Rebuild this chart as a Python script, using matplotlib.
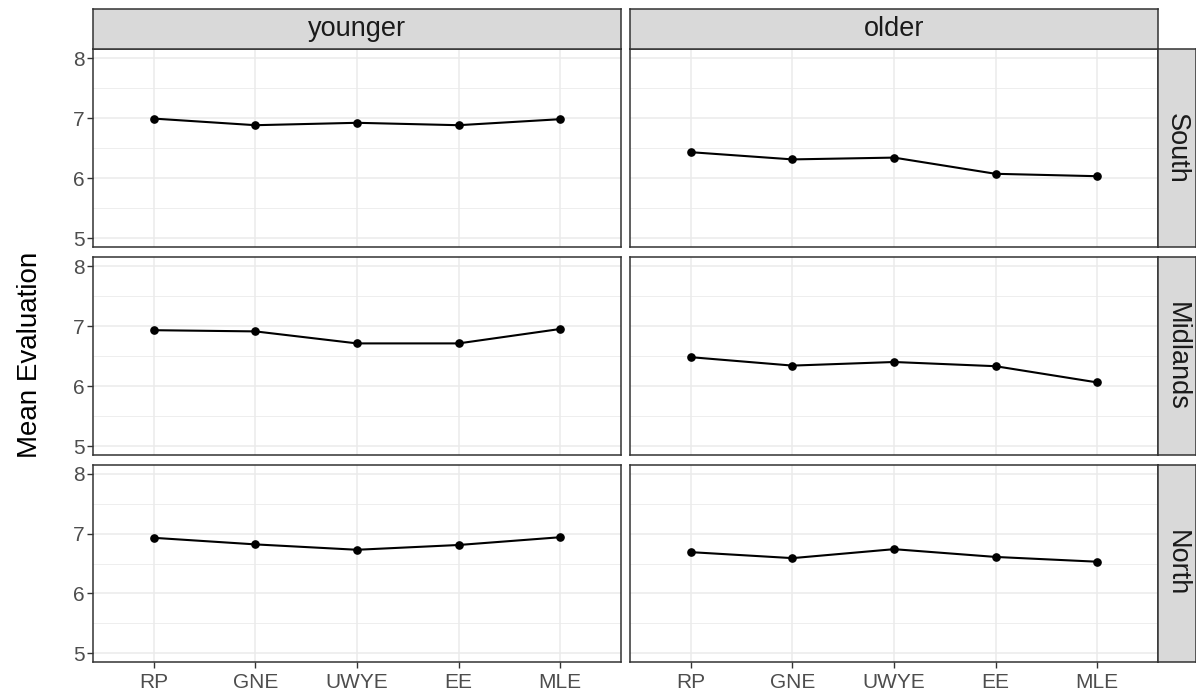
import numpy as np
import matplotlib
matplotlib.use("Agg")
import matplotlib.pyplot as plt

plt.rcParams['font.family'] = ['Liberation Sans', 'DejaVu Sans']

# data
categories = ['RP', 'GNE', 'UWYE', 'EE', 'MLE']
ages = ['younger', 'older']
regions = ['South', 'Midlands', 'North']

younger_south = [6.99, 6.88, 6.92, 6.88, 6.98]
older_south = [6.43, 6.31, 6.34, 6.07, 6.03]
younger_midlands = [6.93, 6.91, 6.71, 6.71, 6.95]
older_midlands = [6.48, 6.34, 6.40, 6.33, 6.06]
younger_north = [6.93, 6.82, 6.73, 6.81, 6.94]
older_north = [6.69, 6.59, 6.74, 6.61, 6.53]

values = {
    ('South', 'younger'): younger_south,
    ('South', 'older'): older_south,
    ('Midlands', 'younger'): younger_midlands,
    ('Midlands', 'older'): older_midlands,
    ('North', 'younger'): younger_north,
    ('North', 'older'): older_north,
}

W, H = 1196, 695
fig = plt.figure(figsize=(W / 100, H / 100), dpi=100)

# panel geometry in pixels (left, right) / (top, bottom)
cols = [(93, 621), (630, 1158)]
rows = [(49, 247), (257, 455), (465, 662)]
strip_top = 9
strip_right = 1196

grid_col = '#EBEBEB'
dark = '#333333'
strip_fill = '#D9D9D9'
tick_col = '#4D4D4D'


def px_rect(x0, x1, y0, y1):
    return [x0 / W, 1 - y1 / H, (x1 - x0) / W, (y1 - y0) / H]


x = np.arange(1, len(categories) + 1)

for r, region in enumerate(regions):
    for c, age in enumerate(ages):
        x0, x1 = cols[c]
        y0, y1 = rows[r]
        ax = fig.add_axes(px_rect(x0, x1, y0, y1))
        ax.set_xlim(0.4, 5.6)
        ax.set_ylim(4.85, 8.15)

        # grid
        for yv in [5.5, 6.5, 7.5]:
            ax.axhline(yv, color=grid_col, lw=0.6, zorder=0)
        for yv in [5, 6, 7, 8]:
            ax.axhline(yv, color=grid_col, lw=1.15, zorder=0)
        for xv in x:
            ax.axvline(xv, color=grid_col, lw=1.15, zorder=0)

        ax.plot(x, values[(region, age)], color='black', lw=1.5,
                marker='o', markersize=5.2, zorder=3)

        ax.set_xticks(x)
        ax.set_yticks([5, 6, 7, 8])
        ax.tick_params(length=4, width=1.0, color=dark, labelcolor=tick_col,
                       labelsize=15)
        ax.tick_params(axis='x', pad=4)
        ax.tick_params(axis='y', pad=2)
        if r == len(regions) - 1:
            ax.set_xticklabels(categories)
        else:
            ax.tick_params(axis='x', length=0, labelbottom=False)
        if c == 0:
            ax.set_yticklabels(['5', '6', '7', '8'])
        else:
            ax.tick_params(axis='y', length=0, labelleft=False)
        for sp in ax.spines.values():
            sp.set_color(dark)
            sp.set_linewidth(1.1)

        # top strips
        if r == 0:
            sax = fig.add_axes(px_rect(x0, x1, strip_top, y0))
            sax.set_facecolor(strip_fill)
            sax.set_xticks([])
            sax.set_yticks([])
            for sp in sax.spines.values():
                sp.set_color(dark)
                sp.set_linewidth(1.1)
            sax.text(0.5, 0.5, age, ha='center', va='center',
                     fontsize=19.5, color='#1A1A1A', transform=sax.transAxes)

        # right strips
        if c == len(ages) - 1:
            sax = fig.add_axes(px_rect(x1, strip_right, y0, y1))
            sax.set_facecolor(strip_fill)
            sax.set_xticks([])
            sax.set_yticks([])
            for sp in sax.spines.values():
                sp.set_color(dark)
                sp.set_linewidth(1.1)
            sax.text(0.5, 0.5, region, ha='center', va='center',
                     rotation=-90, fontsize=19.5, color='#1A1A1A',
                     transform=sax.transAxes)

fig.text(30 / W, 1 - 355 / H, 'Mean Evaluation', rotation=90,
         ha='center', va='center', fontsize=20, color='black')

fig.savefig('out.png', dpi=100, facecolor='white')
